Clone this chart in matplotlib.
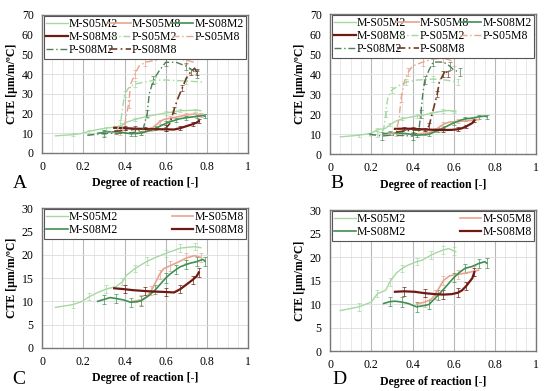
import matplotlib
matplotlib.use('Agg')
import matplotlib.pyplot as plt
from matplotlib.ticker import MultipleLocator

plt.rcParams['font.family'] = ['Liberation Serif', 'DejaVu Serif']

# --- data (degree of reaction, CTE) ---
# first curing condition (panels A and C)
m05m2_a_x = [0.065, 0.15, 0.19, 0.23, 0.27, 0.31, 0.36, 0.39, 0.41, 0.45, 0.48, 0.51, 0.54, 0.6, 0.64, 0.67, 0.71, 0.74, 0.77]
m05m2_a_y = [8.7, 9.3, 9.9, 11.0, 11.9, 12.6, 13.2, 14.2, 15.6, 17.0, 17.8, 18.6, 19.2, 20.3, 20.9, 21.4, 21.6, 21.7, 21.5]
m05m8_a_x = [0.44, 0.48, 0.51, 0.53, 0.55, 0.57, 0.59, 0.62, 0.66, 0.7, 0.74, 0.77]
m05m8_a_y = [10.0, 10.3, 11.0, 12.3, 14.0, 15.8, 17.0, 17.6, 18.4, 19.3, 19.8, 19.4]
m08m2_a_x = [0.27, 0.3, 0.33, 0.36, 0.395, 0.43, 0.46, 0.48, 0.52, 0.55, 0.57, 0.6, 0.62, 0.65, 0.67, 0.7, 0.72, 0.75, 0.78, 0.79]
m08m2_a_y = [10.0, 10.4, 10.8, 10.6, 10.3, 9.8, 9.9, 10.1, 11.3, 12.5, 13.5, 15.0, 15.8, 16.8, 17.4, 17.9, 18.2, 18.5, 19.0, 18.6]
m08m8_a_x = [0.35, 0.4, 0.44, 0.5, 0.54, 0.6, 0.64, 0.67, 0.7, 0.73, 0.75, 0.76]
m08m8_a_y = [12.8, 12.6, 12.4, 12.2, 12.1, 12.0, 11.9, 12.6, 13.6, 14.6, 15.4, 16.2]
p05m2_a_x = [0.22, 0.3, 0.36, 0.38, 0.39, 0.4, 0.42, 0.45, 0.5, 0.55, 0.6, 0.7, 0.78]
p05m2_a_y = [9.0, 10.0, 11.0, 15.0, 22.0, 30.0, 33.0, 35.0, 36.0, 37.0, 37.0, 36.5, 36.0]
p05m8_a_x = [0.35, 0.38, 0.4, 0.42, 0.43, 0.45, 0.47, 0.5, 0.55, 0.6, 0.65, 0.7, 0.74]
p05m8_a_y = [10.0, 11.0, 14.0, 25.0, 35.0, 40.0, 44.0, 46.0, 47.0, 48.0, 48.0, 47.0, 46.0]
p08m2_a_x = [0.22, 0.3, 0.4, 0.45, 0.49, 0.51, 0.52, 0.54, 0.57, 0.6, 0.65, 0.7, 0.73, 0.75, 0.76]
p08m2_a_y = [9.0, 10.0, 10.0, 10.5, 12.0, 20.0, 30.0, 37.0, 42.0, 46.0, 46.0, 44.0, 42.0, 40.0, 42.0]
p08m8_a_x = [0.35, 0.45, 0.55, 0.6, 0.62, 0.64, 0.66, 0.68, 0.7, 0.72, 0.74, 0.75]
p08m8_a_y = [11.0, 12.0, 12.0, 12.5, 15.0, 22.0, 28.0, 33.0, 38.0, 41.0, 43.0, 41.0]

# second curing condition (panels B and D)
m05m2_b_x = [0.05, 0.14, 0.2, 0.23, 0.27, 0.29, 0.32, 0.35, 0.38, 0.42, 0.445, 0.49, 0.52, 0.55, 0.575, 0.6, 0.61]
m05m2_b_y = [8.6, 9.4, 10.4, 12.2, 12.9, 14.7, 16.5, 17.6, 18.3, 19.0, 19.3, 20.4, 21.0, 21.5, 21.8, 21.3, 21.1]
m05m8_b_x = [0.42, 0.46, 0.49, 0.51, 0.53, 0.55, 0.58, 0.62, 0.66, 0.7, 0.72]
m05m8_b_y = [10.0, 10.4, 11.0, 12.0, 13.5, 15.0, 16.0, 16.3, 16.6, 17.0, 17.2]
m08m2_b_x = [0.26, 0.29, 0.315, 0.35, 0.38, 0.42, 0.46, 0.48, 0.5, 0.525, 0.56, 0.6, 0.63, 0.655, 0.69, 0.72, 0.75, 0.76]
m08m2_b_y = [10.1, 10.5, 10.6, 10.4, 10.1, 9.4, 9.7, 9.9, 10.8, 11.9, 13.6, 15.6, 16.8, 17.6, 18.0, 18.6, 19.0, 18.7]
m08m8_b_x = [0.315, 0.36, 0.41, 0.46, 0.51, 0.55, 0.59, 0.62, 0.64, 0.66, 0.69, 0.7]
m08m8_b_y = [12.6, 12.7, 12.6, 12.3, 12.1, 12.0, 12.1, 12.4, 12.9, 13.8, 15.5, 16.8]
p05m2_b_x = [0.19, 0.23, 0.26, 0.27, 0.28, 0.3, 0.33, 0.37, 0.42, 0.5, 0.56, 0.62]
p05m2_b_y = [9.0, 10.0, 12.0, 20.0, 28.0, 32.0, 34.0, 36.0, 37.0, 37.5, 37.0, 36.0]
p05m8_b_x = [0.28, 0.32, 0.335, 0.345, 0.36, 0.38, 0.4, 0.45, 0.5, 0.55, 0.58, 0.6]
p05m8_b_y = [10.0, 11.0, 18.0, 28.0, 36.0, 41.0, 44.0, 46.0, 47.5, 48.0, 47.0, 46.0]
p08m2_b_x = [0.19, 0.25, 0.3, 0.4, 0.43, 0.44, 0.45, 0.46, 0.48, 0.5, 0.55, 0.58, 0.6, 0.63]
p08m2_b_y = [10.0, 9.0, 9.5, 9.0, 11.0, 20.0, 30.0, 37.0, 42.0, 46.0, 46.0, 44.0, 42.0, 41.0]
p08m8_b_x = [0.32, 0.4, 0.46, 0.48, 0.5, 0.52, 0.53, 0.55, 0.56, 0.57]
p08m8_b_y = [11.0, 12.0, 12.0, 14.0, 22.0, 30.0, 36.0, 40.0, 42.0, 40.0]

names = ['M-S05M2', 'M-S05M8', 'M-S08M2', 'M-S08M8', 'P-S05M2', 'P-S05M8', 'P-S08M2', 'P-S08M8']
# typical half-height of the error bars seen on each curve
err_size = [0.8, 1.0, 1.0, 0.9, 1.5, 2.0, 1.8, 1.5]
colors = ['#a6d8a2', '#e9a48e', '#3f8f52', '#6e1a12', '#a6d8a2', '#e9a48e', '#4f7f5a', '#6e3a22']
widths = [1.0, 1.2, 1.2, 1.6, 1.0, 1.0, 1.0, 1.2]

series_a = [(m05m2_a_x, m05m2_a_y), (m05m8_a_x, m05m8_a_y), (m08m2_a_x, m08m2_a_y), (m08m8_a_x, m08m8_a_y),
            (p05m2_a_x, p05m2_a_y), (p05m8_a_x, p05m8_a_y), (p08m2_a_x, p08m2_a_y), (p08m8_a_x, p08m8_a_y)]
series_b = [(m05m2_b_x, m05m2_b_y), (m05m8_b_x, m05m8_b_y), (m08m2_b_x, m08m2_b_y), (m08m8_b_x, m08m8_b_y),
            (p05m2_b_x, p05m2_b_y), (p05m8_b_x, p05m8_b_y), (p08m2_b_x, p08m2_b_y), (p08m8_b_x, p08m8_b_y)]


def style_axes(ax, ymax, ystep):
    ax.set_xlim(0, 1)
    ax.set_ylim(0, ymax)
    ax.xaxis.set_minor_locator(MultipleLocator(0.05))
    ax.yaxis.set_major_locator(MultipleLocator(ystep))
    ax.set_xticks([0, 0.2, 0.4, 0.6, 0.8, 1.0])
    ax.set_xticklabels(['0', '0.2', '0.4', '0.6', '0.8', '1'])
    ax.grid(which='major', axis='x', color='#b8b8b8', lw=0.8)
    ax.grid(which='minor', axis='x', color='#e4e4e4', lw=0.6)
    ax.grid(which='major', axis='y', color='#dcdcdc', lw=0.6)
    ax.set_axisbelow(True)
    ax.tick_params(which='both', length=0, labelsize=8.5, pad=6)
    for s in ax.spines.values():
        s.set_color('#777777')
        s.set_linewidth(1.0)
    ax.set_xlabel('Degree of reaction [-]', fontsize=8.5, fontweight='bold', labelpad=3)
    ax.set_ylabel('CTE [µm/m/ºC]', fontsize=8.5, fontweight='bold', labelpad=3)


def draw(ax, series, n):
    lines = []
    for i in range(n):
        x, y = series[i]
        ls = '-' if i < 4 else (0, (5, 2, 1, 2))
        ln, = ax.plot(x, y, color=colors[i], lw=widths[i], ls=ls, label=names[i], zorder=3)
        ax.errorbar(x, y, yerr=err_size[i], fmt='none', ecolor=colors[i], elinewidth=0.6,
                    capsize=1.5, capthick=0.6, errorevery=(1, 2), alpha=0.8, zorder=2)
        lines.append(ln)
    return lines


fig = plt.figure(figsize=(5.5, 3.91), dpi=100)
axA = fig.add_axes([0.0764, 0.6087, 0.375, 0.353])
axB = fig.add_axes([0.600, 0.606, 0.375, 0.358])
axC = fig.add_axes([0.0764, 0.110, 0.375, 0.358])
axD = fig.add_axes([0.600, 0.1023, 0.375, 0.3606])

panels = [(axA, series_a, 8, 70, 10, 'A', -0.14, -0.22),
          (axB, series_b, 8, 70, 10, 'B', 0.0, -0.21),
          (axC, series_a, 4, 30, 5, 'C', -0.145, -0.225),
          (axD, series_b, 4, 30, 5, 'D', 0.01, -0.2)]

for ax, ser, n, ymax, ystep, letter, lx, ly in panels:
    style_axes(ax, ymax, ystep)
    lines = draw(ax, ser, n)
    if n == 8:
        order = [0, 3, 6, 1, 4, 7, 2, 5]
        ncol = 3
    else:
        order = [0, 2, 1, 3]
        ncol = 2
    leg = ax.legend([lines[k] for k in order], [names[k] for k in order], ncol=ncol,
                    loc='upper left', bbox_to_anchor=(0.01, 0, 0.98, 0.995), mode='expand',
                    fontsize=8.5, frameon=True, fancybox=False, handlelength=1.8,
                    handletextpad=0.1, borderpad=0.2, labelspacing=0.1, columnspacing=0.5,
                    borderaxespad=0.0, framealpha=1.0)
    leg.set_zorder(5)
    leg.get_frame().set_edgecolor('#555555')
    leg.get_frame().set_linewidth(0.8)
    ax.text(lx, ly, letter, transform=ax.transAxes, fontsize=14, ha='left', va='center')

fig.savefig('out.png', dpi=100)
